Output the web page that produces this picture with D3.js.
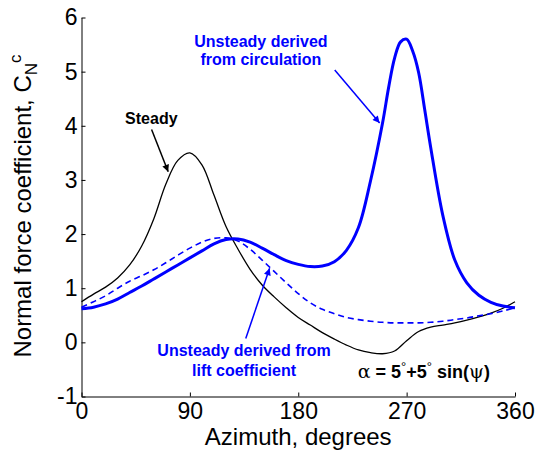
<!DOCTYPE html>
<html>
<head>
<meta charset="utf-8">
<script src="https://cdn.jsdelivr.net/npm/d3@7"></script>
<style>
  body { margin: 0; background: #fff; }
  svg { display: block; font-family: "Liberation Sans", Arial, Helvetica, sans-serif; }
</style>
</head>
<body>
<div id="chart"></div>
<script>
// azimuth grid (degrees) for steady and lift curves
const azimuth = [0, 10, 20, 30, 40, 50, 60, 70, 80, 90, 100, 110, 120, 130, 140, 150, 160, 170, 180,
                 190, 200, 210, 220, 230, 240, 250, 260, 270, 280, 290, 300, 310, 320, 330, 340, 350, 360];

const steady = [0.75, 0.89, 1.02, 1.19, 1.43, 1.78, 2.28, 2.92, 3.36, 3.50, 3.28, 2.72, 2.14, 1.72, 1.35, 1.06, 0.84, 0.64, 0.46,
                0.32, 0.18, 0.06, -0.05, -0.14, -0.19, -0.21, -0.16, 0.03, 0.20, 0.28, 0.32, 0.36, 0.41, 0.47, 0.54, 0.63, 0.75];

const fromLift = [0.65, 0.75, 0.86, 1.00, 1.13, 1.23, 1.34, 1.47, 1.61, 1.74, 1.85, 1.92, 1.93, 1.87, 1.72, 1.52, 1.31, 1.10, 0.90,
                  0.73, 0.61, 0.53, 0.46, 0.42, 0.39, 0.37, 0.36, 0.36, 0.36, 0.37, 0.39, 0.42, 0.45, 0.49, 0.53, 0.58, 0.64];

// circulation curve has a sharp peak, so it is sampled a bit finer there
const circAzimuth = [0, 10, 20, 30, 40, 50, 60, 70, 80, 90, 100, 110, 120, 130, 140, 150, 160, 170, 180,
                     190, 200, 210, 220, 230, 240, 250, 255, 260, 265, 270, 275, 280, 285, 290, 300, 310, 320, 330, 340, 350, 360];
const fromCirculation = [0.62, 0.65, 0.71, 0.80, 0.92, 1.04, 1.17, 1.30, 1.43, 1.56, 1.69, 1.82, 1.90, 1.91, 1.85, 1.74, 1.62, 1.51, 1.44,
                         1.40, 1.41, 1.49, 1.70, 2.12, 2.98, 4.05, 4.70, 5.25, 5.55, 5.60, 5.38, 4.98, 4.30, 3.60, 2.35, 1.52, 1.10, 0.87, 0.74, 0.67, 0.64];

const xTicks = [0, 90, 180, 270, 360];
const yTicks = [-1, 0, 1, 2, 3, 4, 5, 6];

// annotation labels and arrows, in data units (azimuth, C_N)
const labels = [
    { lines: ["Steady"], x: 58, y: [4.04], color: "#000" },
    { lines: ["Unsteady derived", "from circulation"], x: 149, y: [5.45, 5.12], color: "#0000ff" },
    { lines: ["Unsteady derived from", "lift coefficient"], x: 135, y: [-0.25, -0.62], color: "#0000ff" }
];
const arrows = [
    { from: [58.2, 3.93], to: [72.0, 3.15], color: "#000" },
    { from: [210.3, 5.03], to: [247.6, 4.05], color: "#0000ff" },
    { from: [136.4, 0.07], to: [156.2, 1.37], color: "#0000ff" }
];

const width = 536, height = 450;
const margin = { top: 17.5, right: 21, bottom: 53.5, left: 81.5 };

const svg = d3.select("#chart").append("svg")
    .attr("width", width)
    .attr("height", height);

const x = d3.scaleLinear().domain([0, 360]).range([margin.left, width - margin.right]);
const y = d3.scaleLinear().domain([-1, 6]).range([height - margin.bottom, margin.top]);

// axes: only left and bottom, ticks pointing inward
svg.append("g")
    .attr("transform", `translate(0,${height - margin.bottom})`)
    .call(d3.axisBottom(x).tickValues(xTicks).tickFormat(d => String(d))
        .tickSizeInner(-4).tickSizeOuter(0).tickPadding(6));

svg.append("g")
    .attr("transform", `translate(${margin.left},0)`)
    .call(d3.axisLeft(y).tickValues(yTicks).tickFormat(d => String(d))
        .tickSizeInner(-4).tickSizeOuter(0).tickPadding(4));

svg.selectAll(".tick text")
    .attr("font-size", 23)
    .attr("font-family", "Liberation Sans, Arial, sans-serif")
    .attr("fill", "#000");
svg.selectAll(".domain").attr("stroke", "#000").attr("stroke-width", 1);
svg.selectAll(".tick line").attr("stroke", "#000");

// axis titles
svg.append("text")
    .attr("x", x(180))
    .attr("y", 445)
    .attr("text-anchor", "middle")
    .attr("font-size", 24)
    .text("Azimuth, degrees");

const yTitle = svg.append("text")
    .attr("transform", "translate(31,206) rotate(-90)")
    .attr("text-anchor", "middle")
    .attr("font-size", 24);
yTitle.append("tspan").text("Normal force coefficient, C");
yTitle.append("tspan").attr("font-size", 17).attr("dy", 6).text("N");
yTitle.append("tspan").attr("font-size", 17).attr("dy", -16).text("c");

// curves
const rows = azimuth.map((a, i) => ({ a, v: steady[i], lift: fromLift[i] }));
const circRows = circAzimuth.map((a, i) => ({ a, v: fromCirculation[i] }));

const lineOf = key => d3.line()
    .x(d => x(d.a))
    .y(d => y(d[key]))
    .curve(d3.curveCatmullRom.alpha(0.5));

svg.append("path")
    .datum(rows)
    .attr("fill", "none")
    .attr("stroke", "#000")
    .attr("stroke-width", 1.3)
    .attr("d", lineOf("v"));

svg.append("path")
    .datum(rows)
    .attr("fill", "none")
    .attr("stroke", "#0000ff")
    .attr("stroke-width", 1.6)
    .attr("stroke-dasharray", "6,4")
    .attr("d", lineOf("lift"));

svg.append("path")
    .datum(circRows)
    .attr("fill", "none")
    .attr("stroke", "#0000ff")
    .attr("stroke-width", 3)
    .attr("d", lineOf("v"));

// arrowheads
const defs = svg.append("defs");
["#000", "#0000ff"].forEach((c, i) => {
    defs.append("marker")
        .attr("id", "head" + i)
        .attr("viewBox", "0 -5 10 10")
        .attr("refX", 10)
        .attr("refY", 0)
        .attr("markerUnits", "userSpaceOnUse")
        .attr("markerWidth", 9)
        .attr("markerHeight", 7)
        .attr("orient", "auto")
        .append("path")
        .attr("d", "M0,-5L10,0L0,5Z")
        .attr("fill", c);
});

svg.selectAll("line.arrow")
    .data(arrows)
    .join("line")
    .attr("class", "arrow")
    .attr("x1", d => x(d.from[0]))
    .attr("y1", d => y(d.from[1]))
    .attr("x2", d => x(d.to[0]))
    .attr("y2", d => y(d.to[1]))
    .attr("stroke", d => d.color)
    .attr("stroke-width", 1.5)
    .attr("marker-end", d => d.color === "#000" ? "url(#head0)" : "url(#head1)");

labels.forEach(l => {
    l.lines.forEach((t, i) => {
        svg.append("text")
            .attr("x", x(l.x))
            .attr("y", y(l.y[i]))
            .attr("text-anchor", "middle")
            .attr("font-size", 16)
            .attr("font-weight", "bold")
            .attr("fill", l.color)
            .text(t);
    });
});

// alpha = 5deg + 5deg sin(psi)
const alpha = svg.append("text")
    .attr("x", x(229.4))
    .attr("y", y(-0.66))
    .attr("font-size", 18)
    .attr("font-weight", "bold")
    .attr("fill", "#000");
alpha.append("tspan").attr("font-weight", "normal").attr("font-family", "DejaVu Serif, serif").attr("font-size", 19).text("α");
alpha.append("tspan").text(" = 5");
alpha.append("tspan").attr("font-weight", "normal").attr("font-size", 13).attr("dy", -7).text("°");
alpha.append("tspan").attr("dy", 7).text("+5");
alpha.append("tspan").attr("font-weight", "normal").attr("font-size", 13).attr("dy", -7).text("°");
alpha.append("tspan").attr("dy", 7).text(" sin(");
alpha.append("tspan").attr("font-weight", "normal").attr("font-family", "DejaVu Serif, serif").attr("font-size", 19).text("ψ");
alpha.append("tspan").text(")");
</script>
</body>
</html>
